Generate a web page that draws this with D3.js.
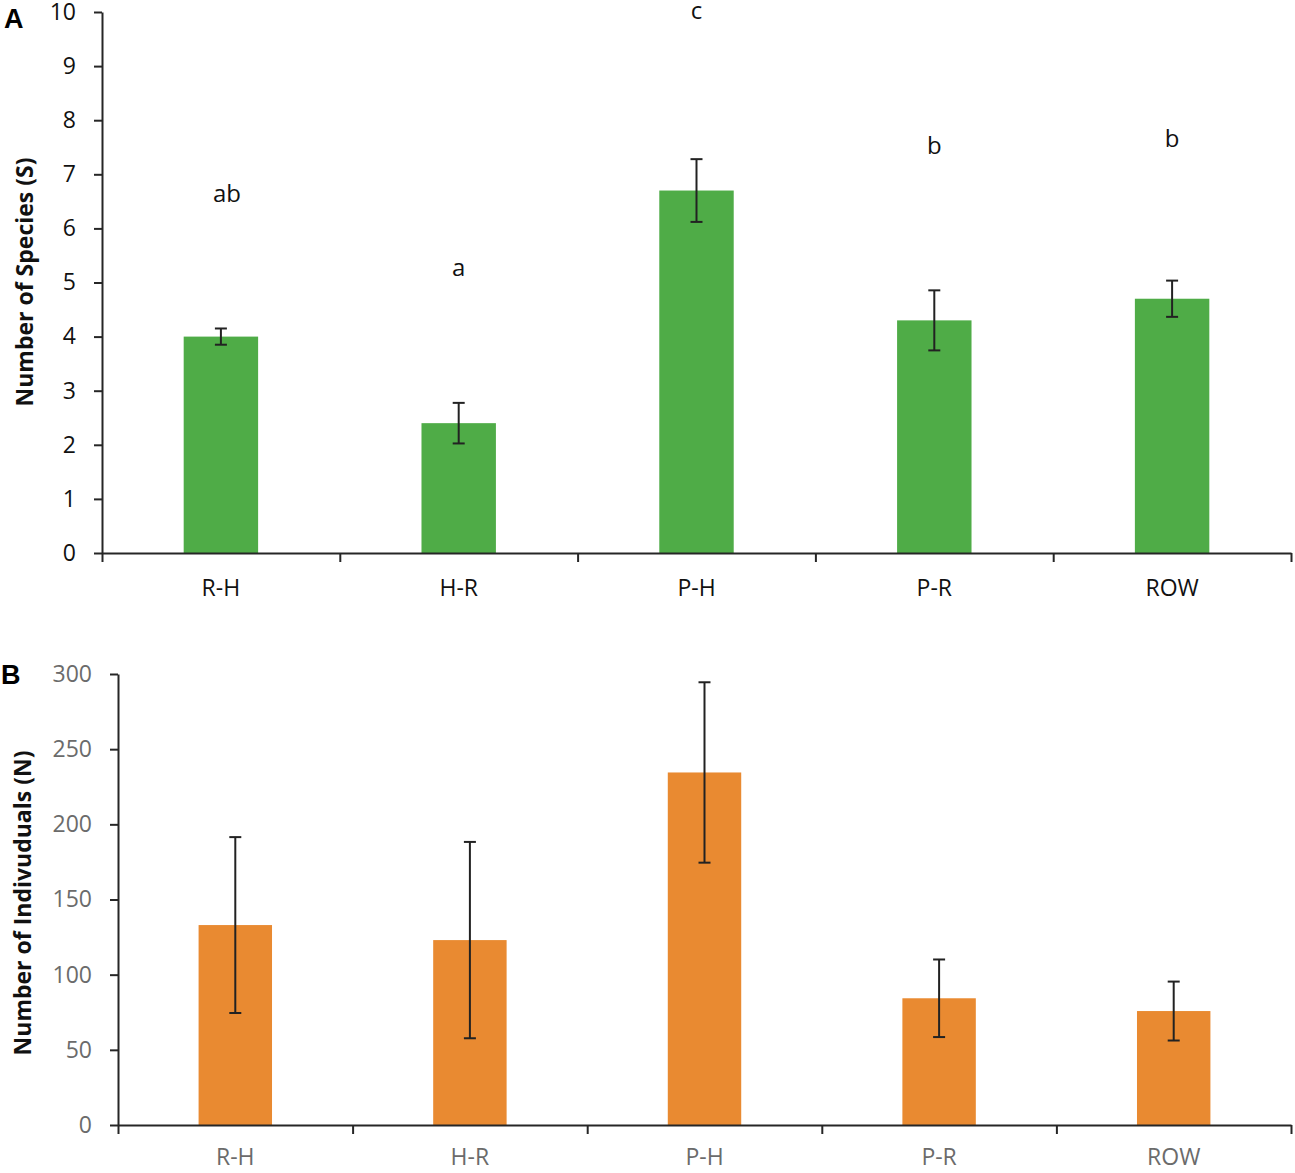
<!DOCTYPE html>
<html><head><meta charset="utf-8">
<script src="https://cdn.jsdelivr.net/npm/d3@7"></script>
<style>body{margin:0;background:#fff;} svg{display:block;}</style>
</head><body>
<script>
const categories = ["R-H","H-R","P-H","P-R","ROW"];
const speciesMean = [4.0, 2.4, 6.7, 4.3, 4.7];
const speciesErr  = [0.15, 0.375, 0.58, 0.555, 0.335];
const speciesLetters = ["ab","a","c","b","b"];
const speciesLetterPos = [6.49, 5.12, 9.88, 7.38, 7.51];
const indivMean = [133, 123, 234.5, 84.3, 75.8];
const indivErr  = [58.5, 65.3, 60, 25.8, 19.6];
const speciesTicks = [0,1,2,3,4,5,6,7,8,9,10];
const indivTicks = [0,50,100,150,200,250,300];

const W = 1295, H = 1173;
const svg = d3.select("body").append("svg").attr("width", W).attr("height", H);
const FONT = "'Open Sans', 'Noto Sans', sans-serif";
const axisColor = "#262626";

function panel(cfg){
  const g = svg.append("g");
  const y = d3.scaleLinear().domain(cfg.domain).range([cfg.bottom, cfg.top]);
  const xBand = d3.scaleBand().domain(categories).range([cfg.left, cfg.right]).padding(0);
  const xLin = d3.scaleLinear().domain([0, categories.length]).range([cfg.left, cfg.right]);
  const barW = xBand.bandwidth()*0.313;

  g.selectAll("rect.bar").data(categories).join("rect")
    .attr("x", (d)=> xBand(d)+xBand.bandwidth()/2 - barW/2)
    .attr("width", barW)
    .attr("y", (d,i)=> y(cfg.mean[i]))
    .attr("height", (d,i)=> y(0)-y(cfg.mean[i]))
    .attr("fill", cfg.color);

  const eb = g.selectAll("g.err").data(categories).join("g").attr("class","err");
  eb.append("line")
    .attr("x1", d=> xBand(d)+xBand.bandwidth()/2).attr("x2", d=> xBand(d)+xBand.bandwidth()/2)
    .attr("y1", (d,i)=> y(cfg.mean[i]+cfg.err[i])).attr("y2", (d,i)=> y(cfg.mean[i]-cfg.err[i]))
    .attr("stroke", "#222").attr("stroke-width", 2);
  [1,-1].forEach(s=>{
    eb.append("line")
      .attr("x1", d=> xBand(d)+xBand.bandwidth()/2-6).attr("x2", d=> xBand(d)+xBand.bandwidth()/2+6)
      .attr("y1", (d,i)=> y(cfg.mean[i]+s*cfg.err[i])).attr("y2", (d,i)=> y(cfg.mean[i]+s*cfg.err[i]))
      .attr("stroke", "#222").attr("stroke-width", 2);
  });

  const ya = g.append("g").attr("transform", `translate(${cfg.left},0)`)
    .call(d3.axisLeft(y).tickValues(cfg.ticks).tickSize(8).tickSizeOuter(0).tickPadding(18));
  ya.select(".domain").attr("stroke", axisColor).attr("stroke-width", 2);
  ya.selectAll(".tick line").attr("stroke", axisColor).attr("stroke-width", 2);
  ya.selectAll(".tick text").attr("font-family", FONT).attr("font-size", 23)
    .attr("fill", cfg.labelColor);

  const xa = g.append("g").attr("transform", `translate(0,${cfg.bottom})`)
    .call(d3.axisBottom(xLin).ticks(categories.length).tickSize(9).tickSizeOuter(0).tickFormat(""));
  xa.select(".domain").attr("stroke", axisColor).attr("stroke-width", 2);
  xa.selectAll(".tick line").attr("stroke", axisColor).attr("stroke-width", 2);

  const xl = g.append("g").attr("transform", `translate(0,${cfg.bottom})`)
    .call(d3.axisBottom(xBand).tickSize(0).tickPadding(cfg.catPad));
  xl.select(".domain").remove();
  xl.selectAll(".tick text").attr("font-family", FONT).attr("font-size", 23)
    .attr("fill", cfg.labelColor);

  g.append("text")
    .attr("transform", `translate(${cfg.titleX},${cfg.titleY}) rotate(-90)`)
    .attr("text-anchor","middle").attr("dominant-baseline","central")
    .attr("font-family", FONT).attr("font-weight","bold").attr("font-size", 23)
    .attr("fill","#111").text(cfg.title);

  g.append("text").attr("x", cfg.letterX).attr("y", cfg.letterY)
    .attr("font-family", "'Liberation Sans', Arial, sans-serif").attr("font-weight","bold")
    .attr("font-size", 27).attr("fill","#000").text(cfg.panel);

  return {g, y, xBand};
}

const A = panel({domain:[0,10], top:12, bottom:553, left:102, right:1291,
  mean:speciesMean, err:speciesErr, color:"#4FAC47", ticks:speciesTicks,
  labelColor:"#111", catPad:27, title:"Number of Species (S)",
  titleX:24, titleY:282, panel:"A", letterX:4, letterY:28});

A.g.selectAll("text.sig").data(categories).join("text").attr("class","sig")
  .attr("x", (d,i)=> A.xBand(d)+A.xBand.bandwidth()/2 + (i===0?6:0))
  .attr("y", (d,i)=> A.y(speciesLetterPos[i]))
  .attr("text-anchor","middle").attr("font-family", FONT).attr("font-size", 24)
  .attr("fill","#111").text((d,i)=> speciesLetters[i]);

panel({domain:[0,300], top:674, bottom:1125, left:118, right:1291,
  mean:indivMean, err:indivErr, color:"#E98A31", ticks:indivTicks,
  labelColor:"#6b6b6b", catPad:24, title:"Number of Indivuduals (N)",
  titleX:22, titleY:903, panel:"B", letterX:1, letterY:684});
</script>
</body></html>
